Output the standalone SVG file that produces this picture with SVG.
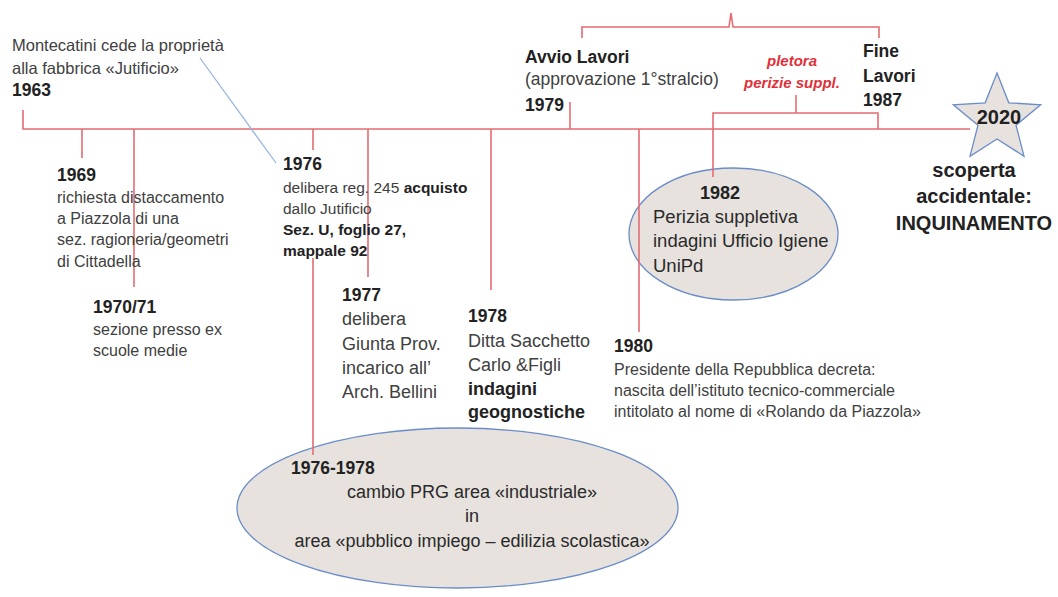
<svg xmlns="http://www.w3.org/2000/svg" width="1058" height="597" viewBox="0 0 1058 597">
<style>
text{font-family:"Liberation Sans",Arial,sans-serif;fill:#404040}
.b{font-weight:bold;fill:#222}
.n16{font-size:16px}
.n18{font-size:18px}
.y{font-size:17.5px;font-weight:bold;fill:#222}
.red{fill:none;stroke:#E46C72;stroke-width:1.6}
.blue{fill:none;stroke:#95B3E0;stroke-width:1.2}
.ell{fill:#E7E2DE;stroke:#6A8CC8;stroke-width:1.3}
.dark{fill:#2a2a2a}
.pl{font-size:15px;font-weight:bold;font-style:italic;fill:#E0303A}
.big{font-size:20px;font-weight:bold;fill:#222}
</style>
<rect width="1058" height="597" fill="#fff"/>

<g id="ellipse-1976-1978">
<ellipse class="ell" cx="457.5" cy="508" rx="220.5" ry="80"/>
</g>
<g id="ellipse-1982">
<ellipse class="ell" cx="733.5" cy="234" rx="104.5" ry="66"/>
</g>

<g id="connectors">
<path class="red" d="M23,110 V129 H970"/>
<path class="red" d="M82,129 V158"/>
<path class="red" d="M134,129 V287"/>
<path class="red" d="M313,129 V150"/>
<path class="red" d="M313,258 V455"/>
<path class="red" d="M368,129 V277"/>
<path class="red" d="M491,129 V290"/>
<path class="red" d="M570,102 V129"/>
<path class="red" d="M639,129 V332"/>
<path class="red" d="M713,177 V113 H878 V129"/>
<path class="red" d="M796,95 V113"/>
<path class="red" d="M582,38 V27 H729 L731,13 L733,27 H879 V38"/>
<path class="blue" d="M200,58 L276,163"/>
</g>

<g id="n1963">
<text x="12" y="51" style="font-size:16.5px">Montecatini cede la proprietà</text>
<text x="12" y="74" style="font-size:16.5px">alla fabbrica «Jutificio»</text>
<text x="12" y="96" class="y">1963</text>
</g>

<g id="n1969">
<text x="57" y="181" class="y">1969</text>
<text class="n16"><tspan x="57" y="203">richiesta distaccamento</tspan><tspan x="57" y="224">a Piazzola di una</tspan><tspan x="57" y="245">sez. ragioneria/geometri</tspan><tspan x="57" y="267">di Cittadella</tspan></text>
</g>

<g id="n1970">
<text x="93" y="313" class="y">1970/71</text>
<text class="n16"><tspan x="93" y="335">sezione presso ex</tspan><tspan x="93" y="356">scuole medie</tspan></text>
</g>

<g id="n1976">
<text x="283" y="170" class="y">1976</text>
<text style="font-size:15.5px"><tspan x="283" y="193">delibera reg. 245 </tspan><tspan class="b">acquisto</tspan><tspan x="283" y="214">dallo Jutificio</tspan><tspan x="283" y="235" class="b">Sez. U, foglio 27,</tspan><tspan x="283" y="256" class="b">mappale  92</tspan></text>
</g>

<g id="n1977">
<text x="342" y="301" class="y">1977</text>
<text class="n18"><tspan x="342" y="325">delibera</tspan><tspan x="342" y="350">Giunta Prov.</tspan><tspan x="342" y="374">incarico all’</tspan><tspan x="342" y="398">Arch. Bellini</tspan></text>
</g>

<g id="n1978">
<text x="468" y="322" class="y">1978</text>
<text class="n18"><tspan x="468" y="347">Ditta Sacchetto</tspan><tspan x="468" y="371">Carlo &amp;Figli</tspan><tspan x="468" y="395" class="b">indagini</tspan><tspan x="468" y="418" class="b">geognostiche</tspan></text>
</g>

<g id="n1979">
<text x="525" y="63" class="y">Avvio Lavori</text>
<text x="525" y="85" style="font-size:17.5px">(approvazione 1°stralcio)</text>
<text x="525" y="111" class="y">1979</text>
</g>

<g id="pletora">
<text x="792" y="66" class="pl" text-anchor="middle">pletora</text>
<text x="792" y="88" class="pl" text-anchor="middle">perizie suppl.</text>
</g>

<g id="n1987">
<text x="863" y="57" class="y">Fine</text>
<text x="863" y="82" class="y">Lavori</text>
<text x="863" y="106" class="y">1987</text>
</g>

<g id="n1980">
<text x="614" y="352" class="y">1980</text>
<text class="n16"><tspan x="614" y="375">Presidente della Repubblica decreta:</tspan><tspan x="614" y="396">nascita dell’istituto tecnico-commerciale</tspan><tspan x="614" y="417">intitolato al nome di «Rolando da Piazzola»</tspan></text>
</g>

<g id="n1982">
<text x="700" y="199" class="y" style="font-size:18px">1982</text>
<text class="dark" style="font-size:18.5px;fill:#2a2a2a"><tspan x="653" y="223">Perizia suppletiva</tspan><tspan x="653" y="247">indagini Ufficio Igiene</tspan><tspan x="653" y="272">UniPd</tspan></text>
</g>

<g id="n1976-1978">
<text x="291" y="474" class="y">1976-1978</text>
<text class="n18" text-anchor="middle" style="fill:#2a2a2a"><tspan x="472" y="498">cambio PRG area «industriale»</tspan><tspan x="472" y="522">in</tspan><tspan x="472" y="547">area «pubblico impiego – edilizia scolastica»</tspan></text>
</g>

<g id="n2020">
<polygon class="ell" points="997,73 1008.8,102.8 1040.7,104.8 1016,125.2 1024,156.2 997,139 970,156.2 978,125.2 953.3,104.8 985.2,102.8"/>
<text x="999" y="124" class="big" text-anchor="middle">2020</text>
<text class="big" text-anchor="middle"><tspan x="974" y="177">scoperta</tspan><tspan x="974" y="203">accidentale:</tspan><tspan x="974" y="230">INQUINAMENTO</tspan></text>
</g>
</svg>
